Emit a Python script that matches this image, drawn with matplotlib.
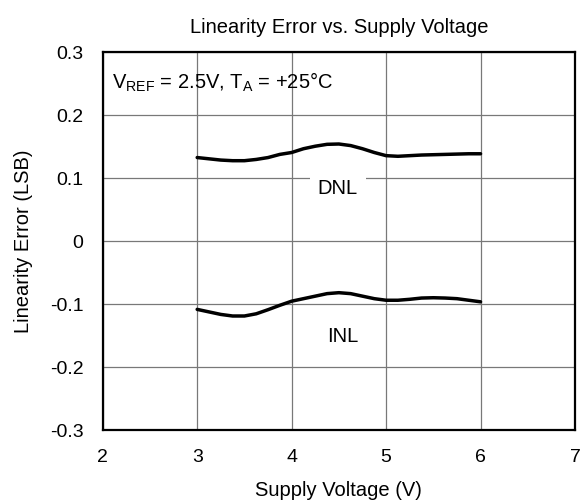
import matplotlib

matplotlib.use("Agg")

import matplotlib.pyplot as plt

plt.rcParams["font.family"] = ["Liberation Sans", "DejaVu Sans"]
plt.rcParams["mathtext.fontset"] = "custom"
plt.rcParams["mathtext.rm"] = "Liberation Sans"

# values, every 0.125 V
supply_v = [3.0, 3.125, 3.25, 3.375, 3.5, 3.625, 3.75, 3.875, 4.0, 4.125, 4.25, 4.375, 4.5,
            4.625, 4.75, 4.875, 5.0, 5.125, 5.25, 5.375, 5.5, 5.625, 5.75, 5.875, 6.0]
dnl = [0.132, 0.130, 0.128, 0.127, 0.127, 0.129, 0.132, 0.137, 0.140, 0.146, 0.150, 0.153, 0.1535,
       0.151, 0.146, 0.140, 0.135, 0.134, 0.135, 0.136, 0.1365, 0.137, 0.1375, 0.138, 0.138]
inl = [-0.109, -0.113, -0.117, -0.1195, -0.1195, -0.116, -0.1095, -0.1025, -0.096, -0.092, -0.088, -0.084, -0.0825,
       -0.084, -0.088, -0.092, -0.0945, -0.0945, -0.093, -0.091, -0.0905, -0.091, -0.092, -0.0945, -0.097]

x_ticks = [2, 3, 4, 5, 6, 7]
y_ticks = [-0.3, -0.2, -0.1, 0, 0.1, 0.2, 0.3]
y_labels = ["-0.3", "-0.2", "-0.1", "0", "0.1", "0.2", "0.3"]

fs = 14.5

fig = plt.figure(figsize=(5.82, 5.02), dpi=100)
ax = fig.add_axes([0.1765, 0.142, 0.8115, 0.753])

ax.plot(supply_v, dnl, color="black", lw=2.5, solid_capstyle="round", solid_joinstyle="round", zorder=3)
ax.plot(supply_v, inl, color="black", lw=2.5, solid_capstyle="round", solid_joinstyle="round", zorder=3)

ax.set_xlim(2, 7)
ax.set_ylim(-0.3, 0.3)
ax.set_xticks(x_ticks)
ax.set_yticks(y_ticks)
ax.set_yticklabels(y_labels)
ax.tick_params(length=0, labelsize=14, pad=13)
ax.tick_params(axis="y", pad=14)
ax.grid(True, color="#787878", lw=0.9)
ax.set_axisbelow(True)
for sp in ax.spines.values():
    sp.set_linewidth(1.6)

ax.text(2.1, 0.253, r"$\mathrm{V_{REF}}$ = 2.5V, $\mathrm{T_A}$ = +25°C", fontsize=fs, va="center", ha="left")
ax.text(4.49, 0.084, "DNL", fontsize=fs, ha="center", va="center",
        bbox=dict(facecolor="white", edgecolor="none", pad=6), zorder=2)
ax.text(4.54, -0.151, "INL", fontsize=fs, ha="center", va="center", zorder=2)

ax.set_title("Linearity Error vs. Supply Voltage", fontsize=fs, pad=14)
ax.set_xlabel("Supply Voltage (V)", fontsize=fs, labelpad=11)
ax.set_ylabel("Linearity Error (LSB)", fontsize=fs, labelpad=12)

fig.savefig("out.png", dpi=100)
plt.close(fig)
